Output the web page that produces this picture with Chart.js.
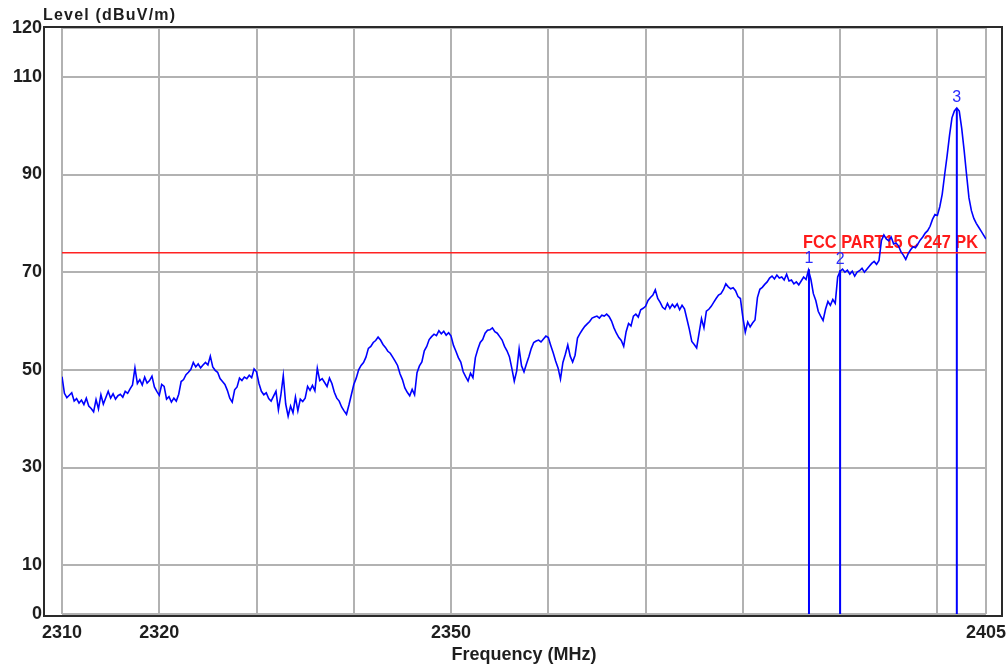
<!DOCTYPE html>
<html>
<head>
<meta charset="utf-8">
<script src="https://cdn.jsdelivr.net/npm/chart.js@4.4.0/dist/chart.umd.min.js"></script>
<style>
    html, body { margin: 0; padding: 0; background: #fff; }
    #wrap { width: 1008px; height: 668px; }
</style>
</head>
<body>
<div id="wrap"><canvas id="spectrum" width="1008" height="668"></canvas></div>
<script>
(function () {
    // sweep grid of the analyser trace (MHz)
    const sweepStart = 2310;
    const sweepStep = 0.25;

    // measured level, dBuV/m, 4 points per MHz starting at 2310
    const levels = [
        48.6, 45.2, 44.3, 44.8,  45.3, 43.6, 44.1, 43.2,  43.8, 42.9, 44.2, 42.6,  42.1, 41.4, 43.9, 42.0,
        44.9, 43.0, 44.3, 45.6,  44.2, 45.1, 44.0, 44.7,  45.0, 44.4, 45.6, 45.2,  46.1, 46.9, 50.4, 47.2,
        48.0, 46.9, 48.5, 47.3,  47.8, 48.7, 46.5, 45.6,
        // 2320
        44.8, 47.0, 46.6, 44.0,  44.5, 43.4, 44.2, 43.6,  45.0, 47.6, 48.0, 49.0,  49.5, 50.1, 51.5, 50.6,
        51.2, 50.4, 51.0, 51.5,  51.0, 52.8, 50.6, 49.9,  49.5, 48.2, 47.6, 47.0,  45.8, 44.2, 43.4, 45.9,
        46.5, 48.3, 47.8, 48.5,  48.2, 48.9, 48.4, 50.2,
        // 2330
        49.6, 47.2, 45.6, 44.9,  45.3, 44.1, 43.6, 44.6,  45.6, 41.8, 44.8, 48.8,  43.0, 40.5, 42.6, 41.2,
        44.4, 41.6, 44.0, 43.5,  44.2, 46.6, 45.8, 46.8,  45.7, 50.3, 47.8, 48.2,  47.4, 46.6, 48.3, 47.2,
        45.4, 44.2, 43.6, 42.4,  41.6, 40.9, 42.8, 44.9,
        // 2340
        47.0, 48.3, 50.0, 50.9,  51.5, 52.6, 54.4, 54.8,  55.6, 56.0, 56.7, 56.1,  55.2, 54.6, 53.8, 53.4,
        52.6, 51.8, 50.9, 49.2,  48.0, 46.3, 45.4, 44.7,  46.0, 44.9, 49.4, 50.8,  51.6, 53.9, 54.8, 56.2,
        56.8, 57.3, 57.0, 58.0,  57.4, 57.9, 57.1, 57.6,
        // 2350
        56.9, 55.0, 53.8, 52.5,  51.6, 49.6, 48.6, 47.7,  49.3, 48.4, 52.5, 54.2,  55.6, 56.2, 57.5, 58.1,
        58.2, 58.6, 57.8, 57.5,  56.8, 56.1, 54.8, 53.9,  52.7, 50.3, 47.7, 49.8,  54.3, 50.8, 49.6, 51.2,
        52.7, 54.4, 55.6, 55.9,  56.1, 55.7, 56.3, 56.9,
        // 2360
        56.6, 55.0, 53.5, 51.8,  50.4, 48.1, 51.5, 53.2,  55.1, 52.8, 51.6, 53.0,  56.5, 57.4, 58.2, 58.9,
        59.4, 59.9, 60.6, 60.8,  61.0, 60.6, 61.2, 61.0,  61.4, 60.9, 60.0, 58.6,  57.5, 56.6, 56.0, 54.8,
        57.8, 59.5, 59.0, 61.0,  61.4, 60.8, 62.3, 62.6,
        // 2370
        63.0, 64.2, 64.8, 65.3,  66.4, 64.6, 63.8, 62.8,  62.4, 63.6, 62.6, 63.4,  62.8, 63.5, 62.3, 63.2,
        62.5, 60.4, 58.3, 55.8,  55.2, 54.5, 57.5, 60.5,  58.6, 62.0, 62.4, 63.0,  63.8, 64.6, 65.3, 65.6,
        66.4, 67.6, 67.0, 66.6,  66.8, 66.2, 65.0, 64.6,
        // 2380
        60.8, 57.7, 59.8, 58.8,  59.6, 60.2, 64.8, 66.5,  66.9, 67.5, 68.0, 68.8,  69.2, 68.6, 69.4, 68.8,
        69.0, 68.4, 69.6, 68.2,  68.4, 67.6, 68.0, 67.4,  68.2, 69.0, 68.5, 70.4,  68.5, 65.6, 64.2, 62.0,
        61.0, 60.1, 62.4, 64.0,  63.2, 64.4, 63.6, 69.0,
        // 2390
        70.2, 70.6, 70.0, 70.4,  69.6, 70.2, 69.2, 70.0,  70.3, 70.8, 70.0, 70.6,  71.2, 71.8, 72.2, 71.6,
        72.4, 76.5, 77.6, 76.8,  76.4, 77.2, 75.8, 76.0,  75.4, 74.2, 73.5, 72.6,  73.8, 74.6, 75.2, 75.0,
        75.8, 76.6, 77.2, 78.0,  78.5, 79.4, 80.8, 81.8,
        // 2400
        81.6, 83.4, 86.0, 90.0,  93.8, 98.0, 101.6, 103.0,  103.6, 103.0, 99.5, 95.0,  90.0, 85.2, 82.6, 81.0,
        80.0, 79.2, 78.4, 77.6,
        76.8
    ];

    const freqGrid = [2310, 2320, 2330, 2340, 2350, 2360, 2370, 2380, 2390, 2400, 2405];
    const freqLabels = [2310, 2320, 2350, 2405];
    const levelTicks = [0, 10, 30, 50, 70, 90, 110, 120];

    const limitLevel = 74;
    const limitName = 'FCC PART15 C 247 PK';

    const markerFreqs = [2386.8, 2390.0, 2402.0];
    const markerLevels = [70.6, 70.4, 103.6];
    const markerNames = ['1', '2', '3'];

    const fontFamily = '"Liberation Sans", Arial, sans-serif';
    const inkColor = '#1e1e1e';
    const traceBlue = '#0000ff';

    const tracePoints = levels.map((v, i) => ({ x: sweepStart + i * sweepStep, y: v }));

    const datasets = [{
        data: tracePoints,
        borderColor: traceBlue,
        borderWidth: 1.6,
        pointRadius: 0,
        tension: 0,
    }, {
        data: [{ x: freqGrid[0], y: limitLevel }, { x: freqGrid[freqGrid.length - 1], y: limitLevel }],
        borderColor: '#ff2222',
        borderWidth: 1.5,
        pointRadius: 0,
    }];
    markerFreqs.forEach((f, i) => {
        datasets.push({
            data: [{ x: f, y: 0 }, { x: f, y: markerLevels[i] }],
            borderColor: traceBlue,
            borderWidth: 2,
            pointRadius: 0,
        });
    });

    const decorations = {
        id: 'decorations',
        beforeDraw(chart) {
            const ctx = chart.ctx;
            ctx.save();
            ctx.fillStyle = '#ffffff';
            ctx.fillRect(0, 0, chart.width, chart.height);
            ctx.restore();
        },
        beforeDatasetsDraw(chart) {
            const { ctx, chartArea, scales } = chart;
            const y = scales.y.getPixelForValue(limitLevel);
            ctx.save();
            ctx.fillStyle = '#ff1a1a';
            ctx.font = 'bold 19px ' + fontFamily;
            ctx.textAlign = 'right';
            ctx.textBaseline = 'alphabetic';
            ctx.translate(chartArea.right - 8, y - 5);
            ctx.scale(0.86, 1);
            ctx.fillText(limitName, 0, 0);
            ctx.restore();
        },
        afterDatasetsDraw(chart) {
            const { ctx, scales } = chart;
            ctx.save();
            ctx.fillStyle = '#2a2aff';
            ctx.font = '16px ' + fontFamily;
            ctx.textAlign = 'center';
            ctx.textBaseline = 'alphabetic';
            markerFreqs.forEach((f, i) => {
                const x = scales.x.getPixelForValue(f);
                const y = scales.y.getPixelForValue(markerLevels[i]) - 6;
                ctx.fillText(markerNames[i], x, y);
            });
            ctx.restore();
        },
        afterDraw(chart) {
            const { ctx, chartArea } = chart;
            ctx.save();
            ctx.strokeStyle = '#2a2a2a';
            ctx.lineWidth = 2;
            ctx.strokeRect(chartArea.left - 18, chartArea.top - 1,
                chartArea.right - chartArea.left + 34, chartArea.bottom - chartArea.top + 3);
            ctx.fillStyle = inkColor;
            ctx.font = 'bold 16px ' + fontFamily;
            ctx.letterSpacing = '1.2px';
            ctx.textAlign = 'left';
            ctx.textBaseline = 'alphabetic';
            ctx.fillText('Level (dBuV/m)', chartArea.left - 19, chartArea.top - 8);
            ctx.restore();
        },
    };

    try {
        new Chart(document.getElementById('spectrum'), {
            type: 'line',
            data: { datasets: datasets },
            options: {
                responsive: false,
                animation: false,
                devicePixelRatio: 1,
                layout: { padding: { top: 28, right: 22, left: 0, bottom: 0 } },
                plugins: { legend: { display: false }, tooltip: { enabled: false } },
                scales: {
                    x: {
                        type: 'linear',
                        min: freqGrid[0],
                        max: freqGrid[freqGrid.length - 1],
                        afterBuildTicks: (scale) => { scale.ticks = freqGrid.map((v) => ({ value: v })); },
                        afterFit: (scale) => {
                            scale.height = 54;
                            scale.paddingLeft = 0;
                            scale.paddingRight = 0;
                        },
                        ticks: {
                            autoSkip: false,
                            maxRotation: 0,
                            padding: 8,
                            color: inkColor,
                            font: { family: fontFamily, size: 18, weight: 'bold' },
                            callback: (v) => (freqLabels.includes(v) ? String(v) : ''),
                        },
                        grid: { color: '#b2b2b2', lineWidth: 2, drawTicks: false },
                        border: { display: false },
                        title: {
                            display: true,
                            text: 'Frequency (MHz)',
                            color: inkColor,
                            font: { family: fontFamily, size: 18, weight: 'bold' },
                            padding: { top: 0, bottom: 2 },
                        },
                    },
                    y: {
                        min: 0,
                        max: 120,
                        afterBuildTicks: (scale) => { scale.ticks = levelTicks.map((v) => ({ value: v })); },
                        afterFit: (scale) => {
                            scale.width = 62;
                            scale.paddingTop = 0;
                            scale.paddingBottom = 0;
                        },
                        ticks: {
                            padding: 20,
                            color: inkColor,
                            font: { family: fontFamily, size: 18, weight: 'bold' },
                        },
                        grid: { color: '#b2b2b2', lineWidth: 2, drawTicks: false },
                        border: { display: false },
                    },
                },
            },
            plugins: [decorations],
        });
    } catch (error) {
        console.error('Falha no gráfico de espectro:', error);
    }
})();
</script>
</body>
</html>
